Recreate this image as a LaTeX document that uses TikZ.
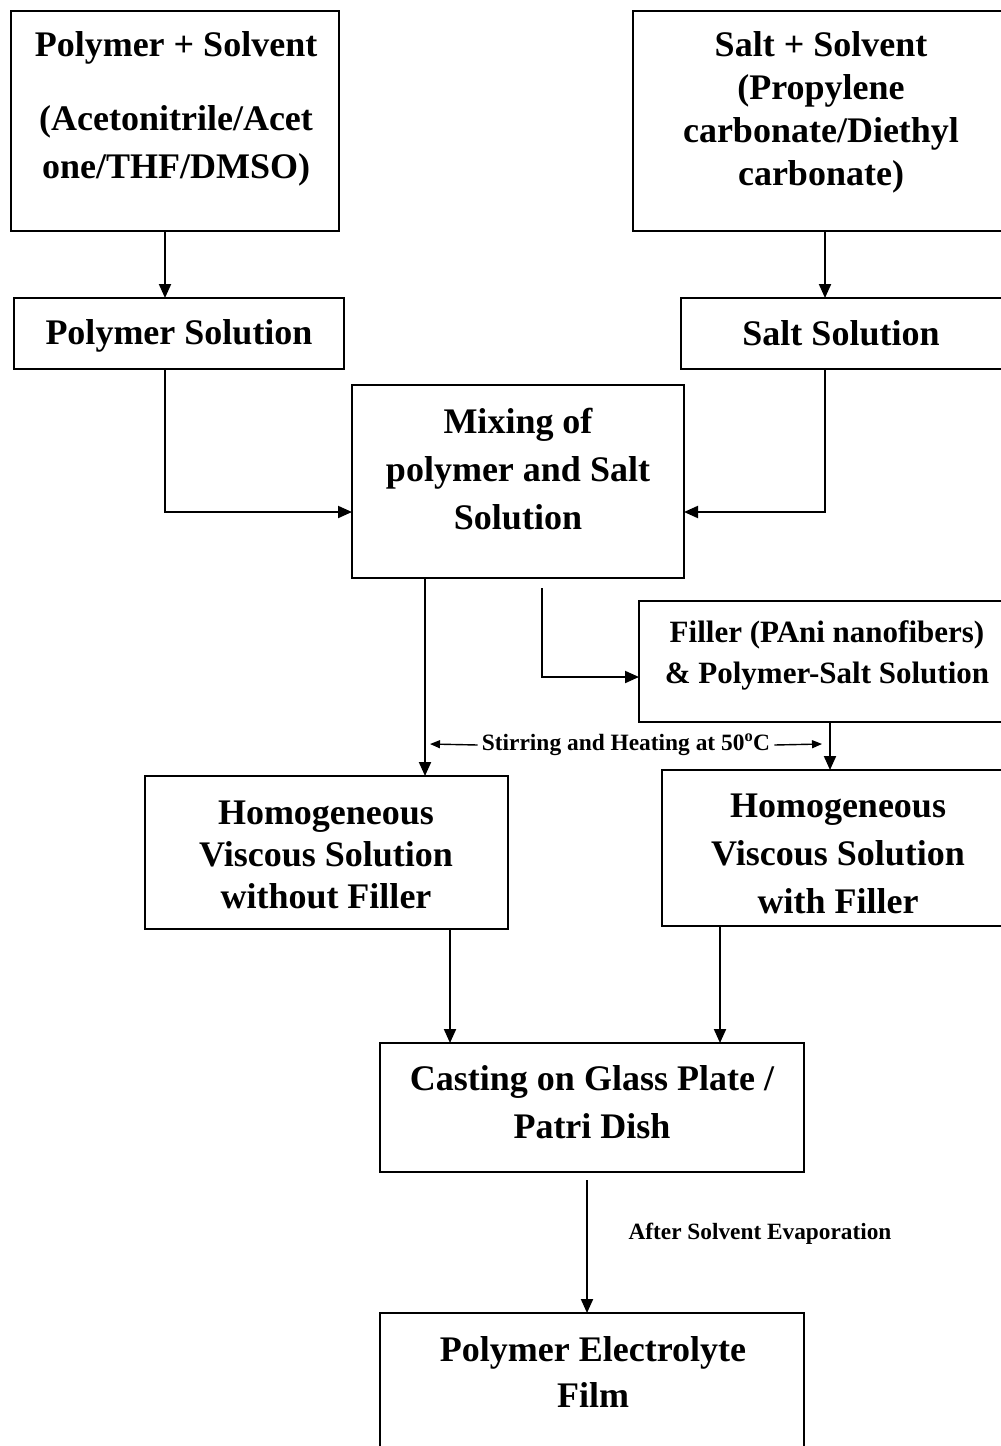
\documentclass[tikz,border=0pt]{standalone}
\usepackage{fontspec}
\setmainfont{Liberation Serif}
\usetikzlibrary{arrows.meta}
\begin{document}
\begin{tikzpicture}[x=1pt,y=-1pt,
  box/.style={draw, line width=2.3pt, inner sep=0pt, outer sep=0pt, rectangle},
  txt/.style={align=center, inner sep=0pt, font=\bfseries\fontsize{36}{48}\selectfont},
  arr/.style={line width=2pt, -{Triangle[length=14pt,width=12pt]}},
  sarr/.style={line width=1.4pt, -{Triangle[length=10pt,width=8pt]}}]
\useasboundingbox (0,0) rectangle (1001,1446);
\clip (0,0) rectangle (1001,1446);
\fill[white] (0,0) rectangle (1001,1446);
% boxes
\node[box, minimum width=328pt, minimum height=220pt] (boxA) at (175,121) {};
\node[box, minimum width=377pt, minimum height=220pt] (boxB) at (821.5,121) {};
\node[box, minimum width=330pt, minimum height=71pt] (polS) at (179,333.5) {};
\node[box, minimum width=329pt, minimum height=71pt] (saltS) at (845.5,333.5) {};
\node[box, minimum width=332pt, minimum height=193pt] (mix) at (518,481.5) {};
\node[box, minimum width=371pt, minimum height=121pt] (fill) at (824.5,661.5) {};
\node[box, minimum width=363pt, minimum height=153pt] (homL) at (326.5,852.5) {};
\node[box, minimum width=348pt, minimum height=156pt] (homR) at (836,848) {};
\node[box, minimum width=424pt, minimum height=129pt] (cast) at (592,1107.5) {};
\node[box, minimum width=424pt, minimum height=157pt] (film) at (592,1391.5) {};
% texts
\node[txt] (tA1) at (176,48) {Polymer + Solvent};
\node[txt] (tA2) at (176,146) {(Acetonitrile/Acet\\one/THF/DMSO)};
\node[txt, font=\bfseries\fontsize{36}{43}\selectfont] (tB) at (821,112) {Salt + Solvent\\(Propylene\\carbonate/Diethyl\\carbonate)};
\node[txt] (tPol) at (179,336) {Polymer Solution};
\node[txt] (tSalt) at (841,333) {Salt Solution};
\node[txt] (tMix) at (518,469) {Mixing of\\polymer and Salt\\Solution};
\node[txt, font=\bfseries\fontsize{31}{41}\selectfont] (tFill) at (827,655.5) {Filler (PAni nanofibers)\\\& Polymer-Salt Solution};
\node[txt, font=\bfseries\fontsize{36}{42}\selectfont] (tHomL) at (326,855) {Homogeneous\\Viscous Solution\\without Filler};
\node[txt] (tHomR) at (838,854) {Homogeneous\\Viscous Solution\\with Filler};
\node[txt] (tCast) at (592,1102) {Casting on Glass Plate /\\Patri Dish};
\node[txt, font=\bfseries\fontsize{36}{46}\selectfont] (tFilm) at (593,1372) {Polymer Electrolyte\\Film};
\node[txt, font=\bfseries\fontsize{23.4}{28}\selectfont, inner sep=4pt] (stir) at (626,745) {Stirring and Heating at 50\textsuperscript{o}C};
\node[txt, font=\bfseries\fontsize{23.3}{27}\selectfont] (evap) at (760,1234) {After Solvent Evaporation};
\coordinate (stirL) at (430,744);
\coordinate (stirR) at (822,744);
% connectors
\draw[arr] ([xshift=-10pt]boxA.south) -- ([xshift=-10pt]boxA.south |- polS.north);
\draw[arr] ([xshift=3.5pt]boxB.south) -- ([xshift=3.5pt]boxB.south |- saltS.north);
\draw[arr] ([xshift=-14pt]polS.south) |- ([yshift=-30.5pt]mix.west);
\draw[arr] ([xshift=-20.5pt]saltS.south) |- ([yshift=-30.5pt]mix.east);
\draw[arr] ([xshift=-93pt]mix.south) -- ([xshift=-93pt]mix.south |- homL.north);
\draw[arr] ([xshift=24pt,yshift=-10pt]mix.south) |- ([yshift=-15.5pt]fill.west);
\draw[arr] ([xshift=5.5pt]fill.south) -- ([xshift=5.5pt]fill.south |- homR.north);
\draw[arr] ([xshift=123.5pt]homL.south) -- ([xshift=123.5pt]homL.south |- cast.north);
\draw[arr] ([xshift=-116pt]homR.south) -- ([xshift=-116pt]homR.south |- cast.north);
\draw[arr] ([xshift=-5pt,yshift=-8pt]cast.south) -- ([xshift=-5pt]cast.south |- film.north);
\draw[sarr] (stir.west) -- (stirL);
\draw[sarr] (stir.east) -- (stirR);
\end{tikzpicture}
\end{document}
